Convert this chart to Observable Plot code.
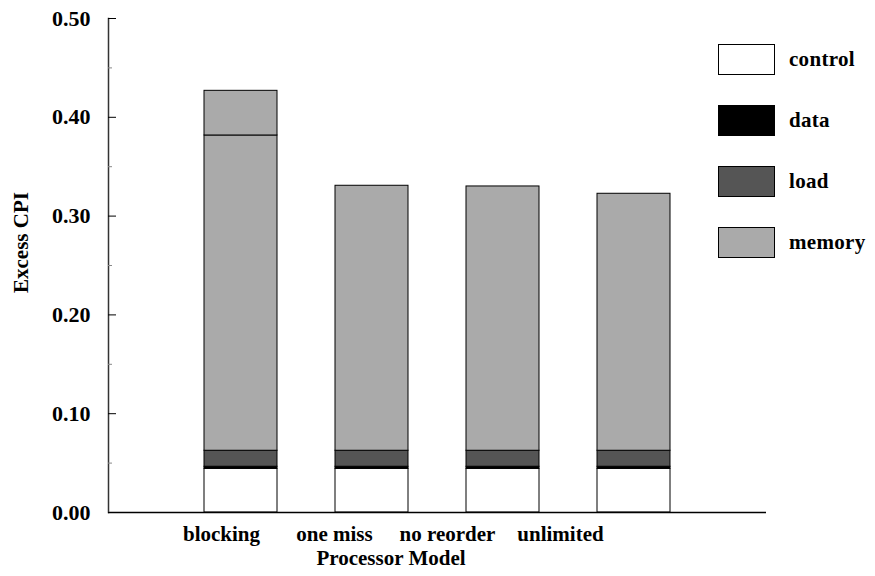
<!DOCTYPE html>
<html>
<head>
<meta charset="utf-8">
<script src="https://cdn.jsdelivr.net/npm/d3@7"></script>
<script src="https://cdn.jsdelivr.net/npm/@observablehq/plot@0.6"></script>
<style>
  body { margin: 0; background: white; }
  #wrap { position: relative; width: 875px; height: 576px; font-family: "Liberation Serif", "Times New Roman", serif; font-weight: bold; }
  #wrap svg { position: absolute; left: 0; top: 0; }
  #overlay { pointer-events: none; }
  #legend { position: absolute; left: 718px; top: 44px; }
  .item { display: flex; align-items: center; height: 31px; margin-bottom: 30px; font-size: 21px; letter-spacing: 0.3px; }
  .sw { width: 55px; height: 29px; border: 1px solid #000; margin-right: 14px; box-sizing: content-box; }
</style>
</head>
<body>
<div id="wrap"><div id="legend"></div></div>
<script>
const models = ["blocking", "one miss", "no reorder", "unlimited"];
const seriesNames = ["control", "data", "load", "memory"];
const seriesColors = ["#ffffff", "#000000", "#555555", "#aaaaaa"];
const control = [0.0442, 0.0442, 0.0442, 0.0442];
const dataStall = [0.0021, 0.0021, 0.0021, 0.0021];
const load = [0.0162, 0.0162, 0.0162, 0.0162];
const memory = [0.3191, 0.2682, 0.2675, 0.2601];
const memoryExtra = [0.0452, 0, 0, 0];
const yMajor = [0, 0.1, 0.2, 0.3, 0.4, 0.5];
const yMinor = [0.05, 0.15, 0.25, 0.35, 0.45];
const xTitle = "Processor Model";
const yTitle = "Excess CPI";

const seriesValues = [control, dataStall, load, memory];
const rows = [];
models.forEach((m, i) => {
  seriesNames.forEach((s, j) => rows.push({model: m, series: s, value: seriesValues[j][i]}));
  if (memoryExtra[i] > 0) rows.push({model: m, series: "memory", value: memoryExtra[i]});
});

const font = {fontFamily: "Liberation Serif, Times New Roman, serif", fontWeight: "bold", fontSize: "21px", background: "transparent"};

const chart = Plot.plot({
  width: 875, height: 576,
  marginLeft: 108, marginRight: 109, marginTop: 18, marginBottom: 64,
  style: font,
  x: {type: "band", domain: models, paddingInner: 0.44, paddingOuter: 0.72, axis: null},
  y: {domain: [0, 0.5], axis: null},
  color: {domain: seriesNames, range: seriesColors},
  marks: [
    Plot.barY(rows, {x: "model", y: "value", fill: "series", stroke: "black", strokeWidth: 1, order: null}),
    Plot.ruleY([0], {stroke: "black", strokeWidth: 1.5}),
    Plot.frame({anchor: "left", stroke: "#333", strokeWidth: 1.5}),
    Plot.axisY({ticks: yMinor, tickSize: -4, tickFormat: () => "", stroke: "#888", label: null}),
    Plot.axisY({ticks: yMajor, tickSize: -8, tickPadding: 26, tickFormat: d3.format(".2f"), stroke: "black", fontSize: 22, label: null}),
    Plot.text([yTitle], {frameAnchor: "left", textAnchor: "middle", lineAnchor: "middle", rotate: -90, dx: -87, dy: -23, fontSize: 21, fontWeight: "bold"})
  ]
});

const labels = Plot.plot({
  width: 875, height: 576,
  marginLeft: 108, marginRight: 202, marginTop: 18, marginBottom: 64,
  style: font,
  x: {type: "point", domain: models, padding: 1, axis: null},
  marks: [
    Plot.axisX({tickSize: 0, tickPadding: 14, label: null}),
    Plot.text([xTitle], {frameAnchor: "bottom", textAnchor: "middle", lineAnchor: "middle", dy: 46, fontSize: 21, fontWeight: "bold"})
  ]
});
labels.id = "overlay";

const wrap = document.getElementById("wrap");
wrap.insertBefore(chart, wrap.firstChild);
wrap.appendChild(labels);

const legend = document.getElementById("legend");
seriesNames.forEach((s, j) => {
  const it = document.createElement("div");
  it.className = "item";
  const sw = document.createElement("div");
  sw.className = "sw";
  sw.style.background = seriesColors[j];
  const tx = document.createElement("span");
  tx.textContent = s;
  it.appendChild(sw); it.appendChild(tx);
  legend.appendChild(it);
});
</script>
</body>
</html>
